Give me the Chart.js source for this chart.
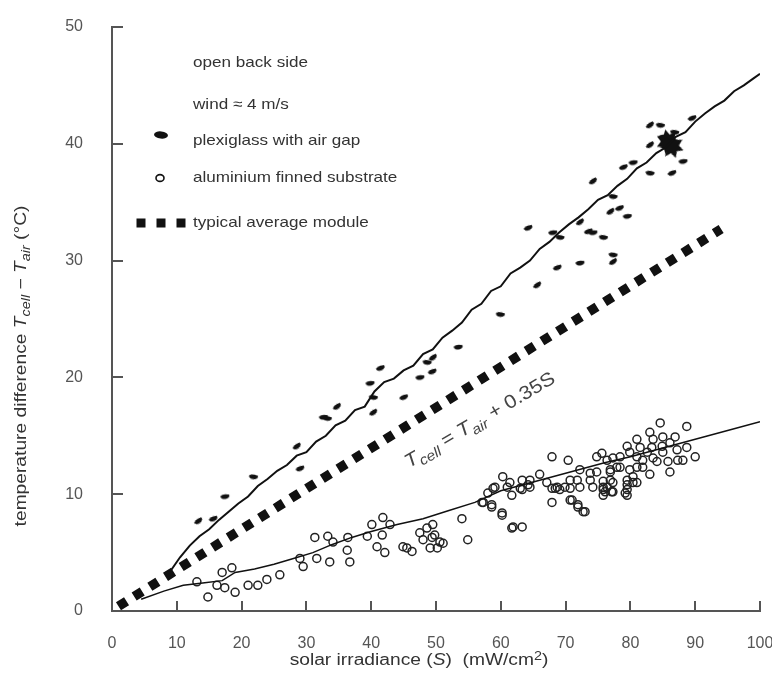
<!DOCTYPE html>
<html>
<head>
<meta charset="utf-8">
<script src="https://cdn.jsdelivr.net/npm/chart.js@4.4.1/dist/chart.umd.min.js"></script>
<style>
  html, body { margin: 0; padding: 0; background: #fff; }
</style>
</head>
<body>
<canvas id="chart" width="772" height="679"></canvas>
<script>
// ---- data (S in mW/cm², T in °C) ----
const xTicks = [0, 10, 20, 30, 40, 50, 60, 70, 80, 90, 100];
const yTicks = [0, 10, 20, 30, 40, 50];

// fitted curve through the plexiglass measurements
const plexiLineS = [9, 10.5, 12, 13.5, 15, 16.5, 18, 19.5, 21, 22.5, 24, 25.5, 27, 28.5, 30, 31.5, 33, 34.5, 36, 37.5,
  39, 40.5, 42, 43.5, 45, 46.5, 48, 49.5, 51, 52.5, 54, 55.5, 57, 58.5, 60, 61.5, 63, 64.5, 66, 67.5,
  69, 70.5, 72, 73.5, 75, 76.5, 78, 79.5, 81, 82.5, 84, 85.5, 87, 88.5, 90, 91.5, 93, 94.5, 96, 97.5, 99, 100];
const plexiLineT = [3.4, 4.6, 5.6, 6.4, 7.0, 7.8, 8.5, 9.2, 9.8, 10.7, 11.3, 12.0, 12.5, 13.3, 13.6, 14.5, 15.0, 15.9, 16.3, 17.2,
  17.5, 18.8, 19.6, 19.9, 20.6, 21.0, 22.0, 22.4, 23.4, 24.0, 24.7, 25.8, 26.3, 27.4, 27.8, 28.9, 29.4, 30.0, 31.0, 31.6,
  32.4, 33.1, 33.7, 34.4, 35.2, 35.6, 36.4, 37.0, 37.9, 38.4, 39.2, 39.7, 40.6, 41.0, 41.9, 42.6, 43.2, 43.7, 44.5, 45.0, 45.6, 46.0];

// fitted curve through the aluminium measurements
const alumLineS = [4.5, 8, 11, 14, 17, 19, 22, 25, 28, 31, 34, 37, 40, 44, 48, 52, 56, 60, 64, 68, 72, 76, 80, 84, 88, 92, 96, 100];
const alumLineT = [1.0, 1.7, 2.2, 2.4, 2.6, 3.3, 3.6, 4.0, 4.5, 5.0, 5.7, 6.3, 6.8, 7.4, 7.9, 8.6, 9.3, 10.3, 10.9, 11.5,
  12.1, 12.7, 13.2, 13.8, 14.4, 15.0, 15.6, 16.2];

// typical average module: Tcell = Tair + 0.35 S
const typicalS = [1, 94];
const typicalT = [0.4, 32.7];

// plexiglass with air gap (filled marks)
const plexiPoints = [
  [13.3, 7.7], [15.6, 7.9], [17.4, 9.8], [21.8, 11.5], [28.5, 14.1], [29.0, 12.2], [32.6, 16.6], [33.2, 16.5],
  [34.7, 17.5], [41.4, 20.8], [39.8, 19.5], [40.3, 18.3], [40.3, 17.0], [45.0, 18.3], [47.5, 20.0], [48.6, 21.3],
  [49.5, 21.7], [49.4, 20.5], [53.4, 22.6], [59.9, 25.4], [65.6, 27.9], [68.7, 29.4], [72.2, 29.8], [77.3, 30.5],
  [77.3, 29.9], [64.2, 32.8], [68.0, 32.4], [69.1, 32.0], [72.2, 33.3], [73.5, 32.5], [74.2, 32.4], [75.8, 32.0],
  [76.9, 34.2], [78.3, 34.5], [79.5, 33.8], [77.3, 35.5], [74.2, 36.8], [78.9, 38.0], [80.4, 38.4], [83.0, 37.5],
  [83.0, 39.9], [86.4, 37.5], [88.1, 38.5], [84.6, 41.6], [83.0, 41.6], [89.5, 42.2], [85.0, 40.6], [86.8, 41.0]
];
// the dense clump of plexiglass marks near S = 86
const plexiClump = [[85.8, 40.2], [86.4, 39.8]];

// aluminium finned substrate (open circles)
const alumPoints = [
  [13.1, 2.5], [14.8, 1.2], [16.2, 2.2], [17.0, 3.3], [18.5, 3.7], [17.4, 2.0], [19.0, 1.6], [21.0, 2.2], [22.5, 2.2],
  [23.9, 2.7], [25.9, 3.1], [29.5, 3.8], [29.0, 4.5], [31.3, 6.3], [31.6, 4.5], [33.3, 6.4], [34.1, 5.9], [36.4, 6.3],
  [39.4, 6.4], [40.1, 7.4], [41.8, 8.0], [36.3, 5.2], [33.6, 4.2], [36.7, 4.2], [40.9, 5.5], [42.1, 5.0], [42.9, 7.4],
  [41.7, 6.5], [44.9, 5.5], [46.3, 5.1], [47.5, 6.7], [48.6, 7.1], [49.5, 7.4], [48.0, 6.1], [49.4, 6.3], [49.1, 5.4],
  [50.2, 5.4], [50.6, 5.9], [51.1, 5.8], [54.0, 7.9], [54.9, 6.1], [45.5, 5.4], [49.8, 6.5], [57.3, 9.3], [58.6, 9.1],
  [60.2, 8.4], [58.0, 10.1], [58.8, 10.5], [61.7, 7.1], [63.3, 7.2], [61.0, 10.6], [63.0, 10.5], [64.2, 10.8], [67.9, 9.3],
  [71.0, 9.5], [71.9, 9.1], [72.7, 8.5], [68.4, 10.5], [69.9, 10.6], [72.2, 10.6], [74.2, 10.6], [76.4, 10.6], [77.3, 10.2],
  [79.2, 10.1], [79.5, 10.8], [81.0, 11.0], [67.9, 13.2], [70.4, 12.9], [74.8, 13.2], [75.6, 13.5], [72.2, 12.1],
  [73.8, 11.8], [74.8, 11.9], [76.9, 11.9], [77.9, 12.3], [60.3, 11.5], [59.1, 10.6], [61.4, 11.0], [63.3, 11.2],
  [64.5, 11.2], [66.0, 11.7], [67.1, 11.0], [68.7, 10.6], [70.7, 11.2], [71.8, 11.2], [73.8, 11.2], [75.8, 10.6],
  [76.9, 11.2], [61.7, 9.9], [63.3, 10.4], [64.5, 10.6], [67.9, 10.5], [69.1, 10.4], [70.7, 10.5], [76.1, 10.2],
  [70.7, 9.5], [71.9, 8.9], [73.0, 8.5], [58.6, 8.9], [60.2, 8.2], [61.9, 7.2], [57.1, 9.3], [84.6, 16.1], [88.7, 15.8],
  [83.0, 15.3], [81.0, 14.7], [79.5, 14.1], [79.9, 13.6], [81.0, 13.2], [81.5, 14.0], [83.5, 14.7], [85.0, 14.9],
  [86.9, 14.9], [86.1, 14.4], [84.9, 14.1], [83.3, 14.0], [82.6, 13.6], [85.0, 13.6], [87.2, 13.8], [88.7, 14.0],
  [90.0, 13.2], [83.5, 13.1], [81.9, 12.9], [84.1, 12.8], [85.8, 12.8], [87.3, 12.9], [88.1, 12.9], [86.1, 11.9],
  [77.3, 13.1], [78.4, 13.2], [76.4, 12.9], [76.9, 12.1], [78.4, 12.3], [79.9, 12.1], [81.0, 12.3], [81.9, 12.3],
  [83.0, 11.7], [80.4, 11.5], [79.5, 11.2], [80.4, 11.0], [75.8, 11.1], [77.3, 11.0], [75.8, 10.4], [79.5, 10.4],
  [79.5, 9.9], [75.8, 9.9], [77.1, 10.2]
];

const legendLines = ["open back side", "wind \u2248 4 m/s", "plexiglass with air gap", "aluminium finned substrate", "typical average module"];

const ink = "#111";
const textColor = "#333";
const axisColor = "#555";
const fontFamily = '"Liberation Sans", Arial, sans-serif';

const toXY = (xs, ys) => xs.map((v, i) => ({ x: v, y: ys[i] }));
const pairs = (arr) => arr.map(([x, y]) => ({ x, y }));

// irregular filled dash used for the plexiglass marks
function makeBlob(w, h) {
  const c = document.createElement("canvas");
  c.width = w;
  c.height = h;
  const g = c.getContext("2d");
  g.fillStyle = ink;
  g.beginPath();
  g.moveTo(1, h * 0.45);
  g.quadraticCurveTo(w * 0.3, 0, w - 1, h * 0.2);
  g.quadraticCurveTo(w, h * 0.7, w * 0.6, h - 0.5);
  g.quadraticCurveTo(w * 0.2, h, 1, h * 0.45);
  g.fill();
  return c;
}
const blob = makeBlob(11, 6);

function makeStar(r) {
  const c = document.createElement("canvas");
  c.width = c.height = r * 2;
  const g = c.getContext("2d");
  g.fillStyle = ink;
  g.beginPath();
  for (let k = 0; k < 14; k++) {
    const rr = k % 2 ? r * 0.55 : r * 0.95;
    const a = (k / 14) * Math.PI * 2;
    g.lineTo(r + rr * Math.cos(a), r + rr * Math.sin(a));
  }
  g.closePath();
  g.fill();
  return c;
}
const star = makeStar(13);

// draw text made of parts, some italic / subscript / superscript; sx stretches horizontally
function richText(ctx, parts, x, y, size, color, align, sx) {
  sx = sx || 1;
  const fontOf = (p) =>
    `${p.i ? "italic " : ""}${p.sub || p.sup ? Math.round(size * 0.72) : size}px ${fontFamily}`;
  let w = 0;
  parts.forEach((p) => {
    ctx.font = fontOf(p);
    w += ctx.measureText(p.t).width;
  });
  ctx.save();
  ctx.translate(x, y);
  ctx.scale(sx, 1);
  let cx = align === "center" ? -w / 2 : 0;
  ctx.fillStyle = color;
  ctx.textBaseline = "middle";
  ctx.textAlign = "left";
  parts.forEach((p) => {
    ctx.font = fontOf(p);
    const dy = p.sub ? size * 0.32 : p.sup ? -size * 0.3 : 0;
    ctx.fillText(p.t, cx, dy);
    cx += ctx.measureText(p.t).width;
  });
  ctx.restore();
}

const decor = {
  id: "decor",
  afterDraw(chart) {
    const { ctx, chartArea: a, scales } = chart;
    const x = scales.x, y = scales.y;
    ctx.save();

    // inward tick marks
    ctx.strokeStyle = axisColor;
    ctx.lineWidth = 2;
    ctx.beginPath();
    xTicks.forEach((v) => {
      if (v === 0) return;
      const px = Math.round(x.getPixelForValue(v));
      ctx.moveTo(px, a.bottom);
      ctx.lineTo(px, a.bottom - 10);
    });
    yTicks.forEach((v) => {
      if (v === 0) return;
      const py = Math.round(y.getPixelForValue(v));
      ctx.moveTo(a.left, py);
      ctx.lineTo(a.left + 11, py);
    });
    ctx.stroke();

    // axis titles
    richText(ctx, [
      { t: "solar irradiance (" }, { t: "S", i: true }, { t: ")  (mW/cm" }, { t: "2", sup: true }, { t: ")" }
    ], 419, 661, 16, textColor, "center", 1.2);

    ctx.save();
    ctx.translate(22, 366);
    ctx.rotate(-Math.PI / 2);
    richText(ctx, [
      { t: "temperature difference " }, { t: "T", i: true }, { t: "cell", i: true, sub: true },
      { t: " \u2212 " }, { t: "T", i: true }, { t: "air", i: true, sub: true }, { t: " (\u00b0C)" }
    ], 0, 0, 16, textColor, "center", 1.2);
    ctx.restore();

    // equation along the typical-module line
    const x0 = x.getPixelForValue(typicalS[0]), y0 = y.getPixelForValue(typicalT[0]);
    const x1 = x.getPixelForValue(typicalS[1]), y1 = y.getPixelForValue(typicalT[1]);
    const ang = Math.atan2(y1 - y0, x1 - x0) + 0.03;
    ctx.save();
    ctx.translate(x.getPixelForValue(56.8), y.getPixelForValue(16.3));
    ctx.rotate(ang);
    richText(ctx, [
      { t: "T", i: true }, { t: "cell", i: true, sub: true }, { t: " = " },
      { t: "T", i: true }, { t: "air", i: true, sub: true }, { t: " + 0.35S" }
    ], 0, 0, 19, "#444", "center", 1.12);
    ctx.restore();

    // legend block
    const lx = 193;
    const ly = [63, 105, 141, 178, 223];
    legendLines.forEach((t, i) => richText(ctx, [{ t }], lx, ly[i], 15, textColor, "left", 1.14));

    ctx.save();
    ctx.translate(161, 135);
    ctx.rotate(0.12);
    ctx.fillStyle = ink;
    ctx.beginPath();
    ctx.ellipse(0, 0, 7, 3.6, 0, 0, Math.PI * 2);
    ctx.fill();
    ctx.restore();

    ctx.strokeStyle = ink;
    ctx.lineWidth = 1.6;
    ctx.beginPath();
    ctx.ellipse(160, 178, 4, 3.4, 0, 0, Math.PI * 2);
    ctx.stroke();

    ctx.fillStyle = ink;
    [141, 161, 181].forEach((cx) => ctx.fillRect(cx - 4.5, 218.5, 9, 9));

    ctx.restore();
  }
};

const noPad = (s) => { s.paddingLeft = 0; s.paddingRight = 0; s.paddingTop = 0; s.paddingBottom = 0; };

new Chart(document.getElementById("chart"), {
  type: "scatter",
  data: {
    datasets: [
      {
        label: "plexiglass fit",
        data: toXY(plexiLineS, plexiLineT),
        showLine: true,
        borderColor: ink,
        borderWidth: 2,
        pointRadius: 0,
        tension: 0
      },
      {
        label: "aluminium fit",
        data: toXY(alumLineS, alumLineT),
        showLine: true,
        borderColor: ink,
        borderWidth: 1.5,
        pointRadius: 0,
        tension: 0
      },
      {
        label: "typical average module",
        data: toXY(typicalS, typicalT),
        showLine: true,
        borderColor: ink,
        borderWidth: 9.5,
        borderDash: [9.5, 9],
        borderCapStyle: "butt",
        pointRadius: 0
      },
      {
        label: "plexiglass with air gap",
        data: pairs(plexiPoints),
        pointStyle: blob,
        pointRotation: (c) => -30 + (c.dataIndex % 4) * 14
      },
      {
        label: "plexiglass clump",
        data: pairs(plexiClump),
        pointStyle: star,
        pointRotation: (c) => c.dataIndex * 20
      },
      {
        label: "aluminium finned substrate",
        data: pairs(alumPoints),
        pointStyle: "circle",
        pointRadius: 4,
        backgroundColor: "rgba(255,255,255,0)",
        borderColor: "#222",
        borderWidth: 1.5
      }
    ]
  },
  options: {
    responsive: false,
    animation: false,
    devicePixelRatio: 1,
    layout: { padding: { top: 27, right: 12, left: 0, bottom: 0 } },
    plugins: {
      legend: { display: false },
      tooltip: { enabled: false }
    },
    scales: {
      x: {
        type: "linear",
        min: 0,
        max: 100,
        afterFit: (s) => { s.height = 68; noPad(s); },
        afterBuildTicks: (s) => { s.ticks = xTicks.map((v) => ({ value: v })); },
        border: { display: true, color: axisColor, width: 2 },
        grid: { drawOnChartArea: false, drawTicks: false },
        ticks: { color: axisColor, padding: 23, font: { size: 16, family: fontFamily }, maxRotation: 0 }
      },
      y: {
        type: "linear",
        min: 0,
        max: 50,
        afterFit: (s) => { s.width = 112; noPad(s); },
        afterBuildTicks: (s) => { s.ticks = yTicks.map((v) => ({ value: v })); },
        border: { display: true, color: axisColor, width: 2 },
        grid: { drawOnChartArea: false, drawTicks: false },
        ticks: { color: axisColor, padding: 29, font: { size: 16, family: fontFamily } }
      }
    }
  },
  plugins: [decor]
});
</script>
</body>
</html>
